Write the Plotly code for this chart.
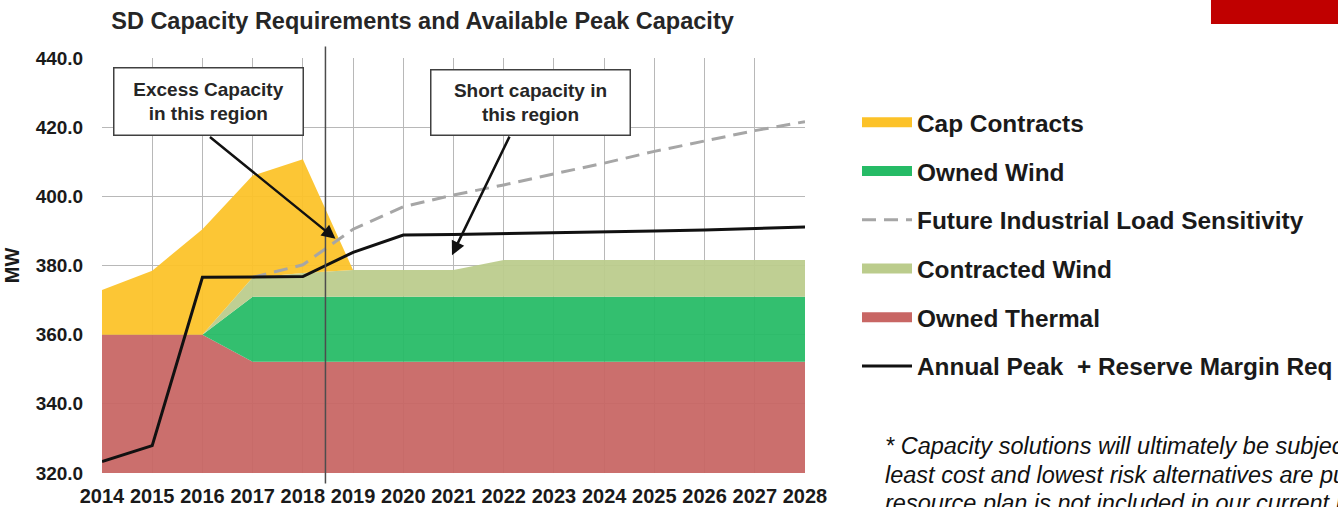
import plotly.graph_objects as go

years = list(range(2014, 2029))
owned_thermal = [360, 360, 360] + [352.2] * 12
owned_wind = [0, 0, 0] + [18.8] * 12
contracted_wind = [0, 0, 0, 5.5, 6.8, 7.7, 7.7, 7.7] + [10.6] * 7
cap_contracts = [12.9, 18.5, 30.5, 29.5, 32.9] + [0] * 10
industrial_load = [None, None, None, 376.6, 380.2, 390.5, 397.0, 400.4,
                   403.3, 406.5, 409.6, 413.0, 416.0, 419.0, 421.6]
peak_reserve = [323.3, 327.9, 376.6, 376.6, 376.8, 383.8, 388.8, 389.0,
                389.2, 389.4, 389.7, 390.0, 390.3, 390.7, 391.1]

footnote_lines = [
    "* Capacity solutions will ultimately be subject to a competitive",
    "least cost and lowest risk alternatives are pursued. Any",
    "resource plan is not included in our current rate base",
]

FONT = "Arial, 'Liberation Sans', sans-serif"
RED = "#C86664"
GREEN = "#26BB66"
LIGHT_GREEN = "#BBCC8C"
YELLOW = "#FCC228"
GREY = "#A6A6A6"

# plot area in pixels (margins below)
PLOT_L, PLOT_T, PLOT_W, PLOT_H = 102, 58, 703, 415


def rgba(hex_color, a):
    h = hex_color.lstrip("#")
    r, g, b = int(h[0:2], 16), int(h[2:4], 16), int(h[4:6], 16)
    return f"rgba({r},{g},{b},{a})"


fig = go.Figure()

areas = [
    ("Owned Thermal", owned_thermal, RED),
    ("Owned Wind", owned_wind, GREEN),
    ("Contracted Wind", contracted_wind, LIGHT_GREEN),
    ("Cap Contracts", cap_contracts, YELLOW),
]
for name, values, color in areas:
    fig.add_trace(go.Scatter(
        x=years, y=values, name=name, stackgroup="cap", mode="lines",
        line=dict(width=0, color=color), fillcolor=rgba(color, 0.94),
        showlegend=False,
    ))

fig.add_trace(go.Scatter(
    x=years, y=industrial_load, name="Future Industrial Load Sensitivity",
    mode="lines", line=dict(color=GREY, width=3, dash="14px,8px"),
    legendrank=3, legendgroup="g3",
))
fig.add_trace(go.Scatter(
    x=years, y=peak_reserve, name="Annual Peak  + Reserve Margin Req",
    mode="lines", line=dict(color="#111111", width=3),
    legendrank=6, legendgroup="g6",
))

# legend swatches for the stacked areas
for name, color, rank in [("Cap Contracts", YELLOW, 1), ("Owned Wind", GREEN, 2),
                          ("Contracted Wind", LIGHT_GREEN, 4), ("Owned Thermal", RED, 5)]:
    fig.add_trace(go.Scatter(
        x=[None], y=[None], name=name, mode="lines",
        line=dict(color=color, width=11), legendrank=rank, legendgroup=f"g{rank}",
    ))

box_style = dict(
    showarrow=False, bgcolor="white", bordercolor="#404040", borderwidth=1.5,
    borderpad=2, font=dict(family=FONT, size=19, color="#262626"),
    xref="x", yref="y",
)
fig.add_annotation(x=2016.13, y=427.3, text="<b>Excess Capacity<br>in this region</b>",
                   width=184, height=62, **box_style)
fig.add_annotation(x=2022.54, y=427.1, text="<b>Short capacity in<br>this region</b>",
                   width=194, height=60, **box_style)

arrow_style = dict(text="", showarrow=True, arrowhead=2, arrowsize=1.1, arrowwidth=2.5,
                   arrowcolor="#111111", xref="x", yref="y", axref="x", ayref="y")
fig.add_annotation(x=2018.65, y=387.7, ax=2016.12, ay=417.5, **arrow_style)
fig.add_annotation(x=2020.97, y=383.0, ax=2022.13, ay=417.7, **arrow_style)

fig.add_shape(type="line", x0=2018.45, x1=2018.45, xref="x", yref="paper",
              y0=-0.025, y1=1.028, line=dict(color="#4d4d4d", width=1.5), layer="above")

# red corner bar
fig.add_shape(type="rect", xref="paper", yref="paper", x0=1.5775, x1=1.8,
              y0=1.0819, y1=1.2, fillcolor="#C00000", line=dict(width=0))

# footnote, one annotation per line to keep the tight line spacing
for i, line in enumerate(footnote_lines):
    ypix = 446 + 28.5 * i
    fig.add_annotation(
        xref="paper", yref="paper",
        x=(883 - PLOT_L) / PLOT_W, y=(PLOT_T + PLOT_H - ypix) / PLOT_H,
        xanchor="left", yanchor="middle", align="left", showarrow=False,
        text=f"<i>{line}</i>", font=dict(family=FONT, size=23.5, color="#111111"),
    )

fig.update_xaxes(
    range=[2014, 2028], tickmode="array", tickvals=years, ticktext=[str(y) for y in years],
    showgrid=True, gridcolor="#B8B8B8", gridwidth=1, zeroline=False,
    ticks="outside", ticklen=5, tickcolor="rgba(0,0,0,0)",
    tickfont=dict(family=FONT, size=20, color="#1a1a1a", weight="bold"),
    showline=False, automargin=False,
)
fig.update_yaxes(
    range=[320, 440], dtick=20, tickformat=".1f",
    showgrid=True, gridcolor="#B8B8B8", gridwidth=1, zeroline=False,
    ticks="outside", ticklen=14, tickcolor="rgba(0,0,0,0)",
    tickfont=dict(family=FONT, size=19, color="#1a1a1a", weight="bold"),
    title=dict(text="<b>MW</b>", font=dict(family=FONT, size=20, color="#1a1a1a"), standoff=10),
    automargin=False,
)

fig.update_layout(
    width=1338, height=507,
    margin=dict(l=PLOT_L, r=1338 - PLOT_L - PLOT_W, t=PLOT_T, b=507 - PLOT_T - PLOT_H),
    paper_bgcolor="white", plot_bgcolor="white",
    font=dict(family=FONT, color="#1a1a1a"),
    title=dict(text="<b>SD Capacity Requirements and Available Peak Capacity</b>",
               x=422.5 / 1338, xanchor="center", y=1 - 21 / 507, yanchor="middle",
               font=dict(family=FONT, size=23.5, color="#262626")),
    legend=dict(xref="container", yref="container", x=857 / 1338, y=1 - 100 / 507,
                xanchor="left", yanchor="top", itemwidth=50, tracegroupgap=14,
                traceorder="grouped", maxheight=480,
                font=dict(family=FONT, size=24.4, color="#1a1a1a", weight="bold"),
                bgcolor="rgba(0,0,0,0)"),
    showlegend=True,
)

fig.write_html("out.html", post_script="document.body.style.margin='0';",
               config={"displayModeBar": False})
